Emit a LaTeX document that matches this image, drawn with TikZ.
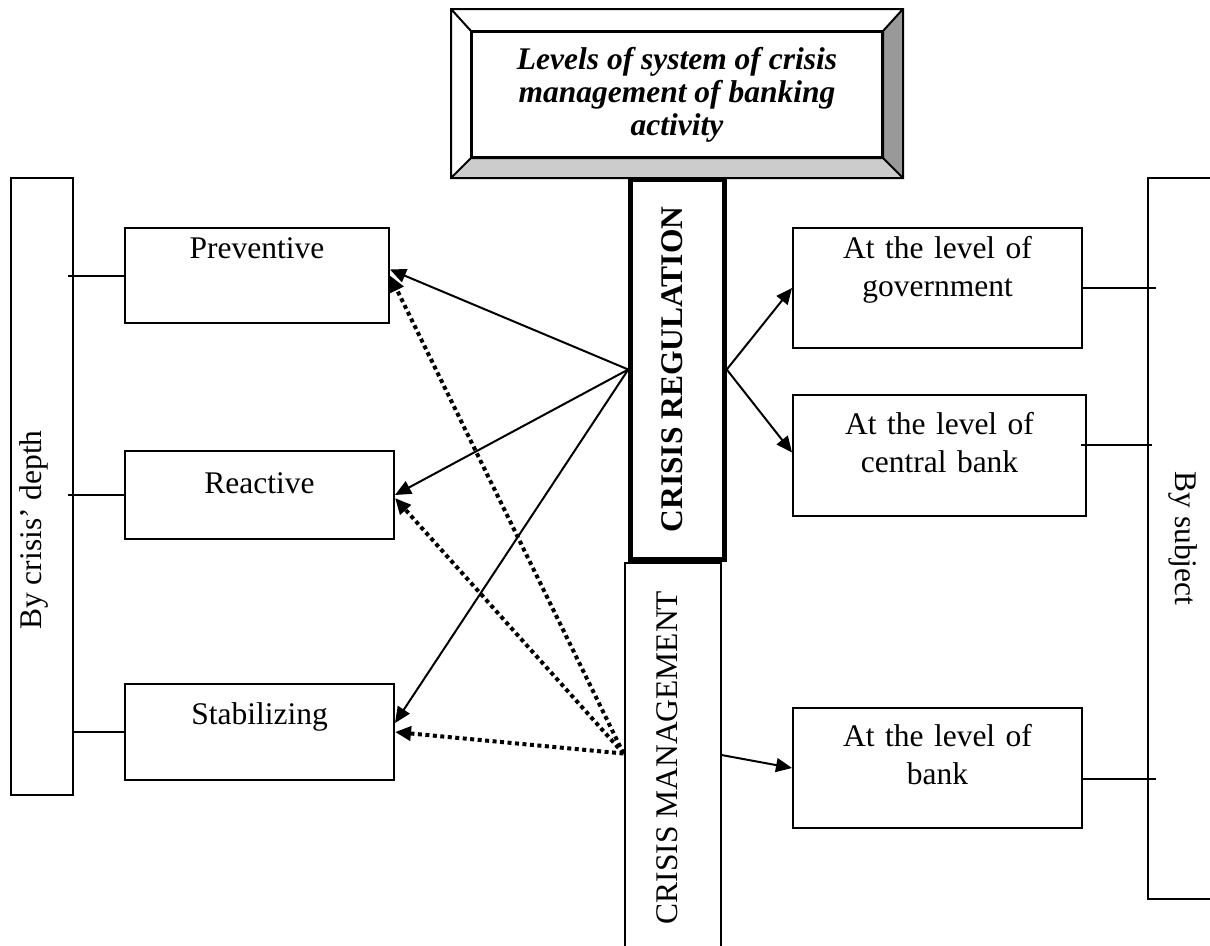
\documentclass[tikz,border=0pt]{standalone}
\usepackage{fontspec}
\setmainfont{Liberation Serif}
\usetikzlibrary{arrows.meta,calc}
\begin{document}
\begin{tikzpicture}[x=1pt, y=-1pt,
  main/.style = {draw, line width=2pt, anchor=north, align=center, inner sep=0pt, font=\fontsize{31.5}{38}\selectfont},
  band/.style = {draw, line width=2pt, inner sep=0pt, font=\fontsize{31.5}{38}\selectfont},
  arr/.style = {line width=2pt, -{Triangle[length=16pt,width=14pt]}},
  dots/.style = {arr, line width=4pt, dash pattern=on 4pt off 3.5pt}]
\useasboundingbox (0,0) rectangle (1210,945);

% title in a bevel frame
\node[draw, line width=2pt, minimum width=410pt, minimum height=125pt, inner sep=0pt, align=center, font=\fontsize{31.5}{33}\selectfont\bfseries\itshape] (1) at (677,94.5) {Levels of system of crisis\\management of banking\\activity};
\coordinate (a) at ($(1.north west)+(-20,-22)$);
\coordinate (b) at ($(1.north east)+(20,-22)$);
\coordinate (c) at ($(1.south east)+(20,20)$);
\coordinate (d) at ($(1.south west)+(-20,20)$);
\fill[black!20] (1.south west) -- (d) -- (c) -- (1.south east) -- cycle;
\fill[black!40] (1.north east) -- (b) -- (c) -- (1.south east) -- cycle;
\draw[line width=2pt] (a) rectangle (c) (1.north west) rectangle (1.south east)
  (a) -- (1.north west) (b) -- (1.north east) (c) -- (1.south east) (d) -- (1.south west);

\node[main, text width=264pt, text height=30pt, text depth=65pt] (2) at (257,227) {Preventive};
\node[main, text width=269pt, text height=42pt, text depth=46pt] (3) at (259.5,450) {Reactive};
\node[main, text width=269pt, text height=40pt, text depth=56pt] (4) at (259.5,683) {Stabilizing};
\node[main, text width=289pt, text height=30pt, text depth=90pt] (5) at (937.5,227) {At the level of\\government};
\node[main, text width=293pt, text height=39pt, text depth=82pt] (6) at (939.5,394) {At the level of\\central bank};
\node[main, text width=289pt, text height=38pt, text depth=82pt] (7) at (937.5,707) {At the level of\\bank};

% rotated bands: north is the left side on the page
\node[band, line width=4.5pt, rotate=90, minimum width=380pt, minimum height=94pt, text height=21pt, text depth=12pt, font=\fontsize{31.5}{38}\selectfont\bfseries] (8) at (677.5,369.5) {CRISIS REGULATION};
\node[band, rotate=90, minimum width=389pt, minimum height=96pt, text height=21pt, text depth=12pt] (9) at (672.5,757.5) {CRISIS MANAGEMENT};

% side boxes
\node[band, minimum width=62pt, minimum height=617pt] (10) at (41.5,486.5) {};
\node[rotate=90, anchor=base, inner sep=0pt, font=\fontsize{31.5}{38}\selectfont] (11) at (41,530) {By crisis’ depth};
\node[band, rotate=-90, minimum width=721pt, minimum height=70pt] (12) at (1183,538.5) {By subject};

\draw[line width=2pt] (2.west) -- ($(2.west -| 10.east)+(-6,0)$);
\draw[line width=2pt] (3.west) -- ($(3.west -| 10.east)+(-6,0)$);
\draw[line width=2pt] (4.west) -- (4.west -| 10.east);
\draw[line width=2pt] (5.east) -- ($(5.east -| 12.south)+(9,0)$);
\draw[line width=2pt] ($(6.east)+(-6,-11)$) -- ($(6.east -| 12.south)+(5,-11)$);
\draw[line width=2pt] ($(7.east)+(0,11)$) -- ($(7.east -| 12.south)+(9,11)$);

\draw[arr] (8.north) -- ([yshift=6pt]2.east);
\draw[arr] (8.north) -- (3.east);
\draw[arr] (8.north) -- ([yshift=9pt]4.east);
\draw[arr] (8.south) -- (5.west);
\draw[arr] (8.south) -- ([yshift=3pt]6.west);
\draw[dots] ([yshift=4pt]9.north) -- (2.east);
\draw[dots] ([yshift=4pt]9.north) -- ([yshift=-3pt]3.east);
\draw[dots] ([yshift=4pt]9.north) -- (4.east);
\draw[arr] ([yshift=2.5pt]9.south) -- (7.west);
\end{tikzpicture}
\end{document}
